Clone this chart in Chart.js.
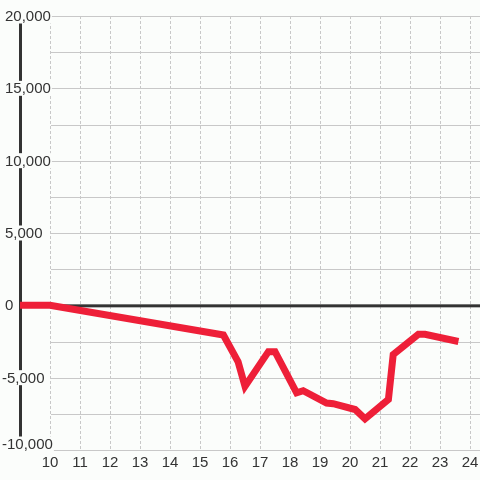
<!DOCTYPE html>
<html>
<head>
<meta charset="utf-8">
<script src="https://cdn.jsdelivr.net/npm/chart.js@4.4.1/dist/chart.umd.min.js"></script>
<style>
  html, body { margin: 0; padding: 0; background: #fbfdfb; }
  #wrap { width: 480px; height: 480px; }
</style>
</head>
<body>
<div id="wrap"><canvas id="chart"></canvas></div>
<script>
// data
const X_VALUES = [9, 10, 15.78, 16.27, 16.5, 17.28, 17.5, 18.22, 18.44, 19.22, 19.44, 20.17, 20.5, 21.28, 21.44, 22.28, 22.5, 23.5];
const Y_VALUES = [0, 0, -2050, -3900, -5600, -3200, -3200, -6050, -5900, -6750, -6800, -7200, -7850, -6500, -3400, -2000, -2000, -2450];

const X_TICKS = [10, 11, 12, 13, 14, 15, 16, 17, 18, 19, 20, 21, 22, 23, 24];
const Y_GRID = [-10000, -7500, -5000, -2500, 0, 2500, 5000, 7500, 10000, 12500, 15000, 17500, 20000];
const Y_LABEL_VALUES = [20000, 15000, 10000, 5000, 0, -5000, -10000];
const Y_LABEL_TEXT = ['20,000', '15,000', '10,000', '5,000', '0', '-5,000', '-10,000'];

const BG = '#fbfdfb';
const INK = '#333333';
const FONT = '"Liberation Sans", Arial, sans-serif';

const framePlugin = {
  id: 'frame',
  beforeDraw(chart) {
    const ctx = chart.ctx;
    ctx.save();
    ctx.fillStyle = BG;
    ctx.fillRect(0, 0, chart.width, chart.height);
    ctx.restore();
  },
  beforeDatasetsDraw(chart) {
    const { ctx, chartArea } = chart;
    const y = chart.scales.y;
    ctx.save();

    // horizontal grid
    ctx.strokeStyle = '#c8c8c8';
    ctx.lineWidth = 1;
    Y_GRID.forEach(v => {
      if (v === 0) return;
      const py = Math.round(y.getPixelForValue(v)) + 0.5;
      ctx.beginPath();
      ctx.moveTo(51, py);
      ctx.lineTo(chart.width, py);
      ctx.stroke();
    });

    // left bar and zero line
    ctx.fillStyle = INK;
    ctx.fillRect(19, chartArea.top, 3, chartArea.bottom - chartArea.top);
    const zy = y.getPixelForValue(0);
    ctx.fillRect(19, zy - 1, chart.width - 19, 3);

    // y labels sit on little boxes that hide the bar
    ctx.font = '15px ' + FONT;
    ctx.textBaseline = 'middle';
    ctx.textAlign = 'left';
    Y_LABEL_VALUES.forEach((v, i) => {
      const txt = Y_LABEL_TEXT[i];
      const cy = Math.min(y.getPixelForValue(v), chartArea.bottom - 6);
      const x0 = v < 0 ? 2 : 5;
      const w = ctx.measureText(txt).width;
      ctx.fillStyle = BG;
      ctx.fillRect(x0 - 1, cy - 7.5, w + 2, 15);
      ctx.fillStyle = INK;
      ctx.fillText(txt, x0, cy + 1);
    });
    ctx.restore();
  }
};

new Chart(document.getElementById('chart'), {
  type: 'line',
  data: {
    datasets: [{
      data: X_VALUES.map((x, i) => ({ x: x, y: Y_VALUES[i] })),
      borderColor: '#ee1f38',
      borderWidth: 7,
      borderCapStyle: 'square',
      borderJoinStyle: 'miter',
      pointRadius: 0,
      tension: 0,
      fill: false
    }]
  },
  options: {
    responsive: true,
    maintainAspectRatio: false,
    animation: false,
    layout: { padding: { left: 20, top: 16, right: 0, bottom: 4 } },
    plugins: { legend: { display: false }, tooltip: { enabled: false } },
    scales: {
      x: {
        type: 'linear',
        min: 9,
        max: 24.333,
        afterBuildTicks: scale => { scale.ticks = X_TICKS.map(v => ({ value: v })); },
        afterFit: scale => { scale.paddingLeft = 0; scale.paddingRight = 0; },
        grid: { color: '#c8c8c8', lineWidth: 1, drawTicks: false },
        border: { display: false, dash: [3, 2] },
        ticks: {
          padding: 4,
          maxRotation: 0,
          autoSkip: false,
          color: INK,
          font: { family: FONT, size: 15 }
        }
      },
      y: {
        type: 'linear',
        display: false,
        min: -10000,
        max: 20000
      }
    }
  },
  plugins: [framePlugin]
});
</script>
</body>
</html>
